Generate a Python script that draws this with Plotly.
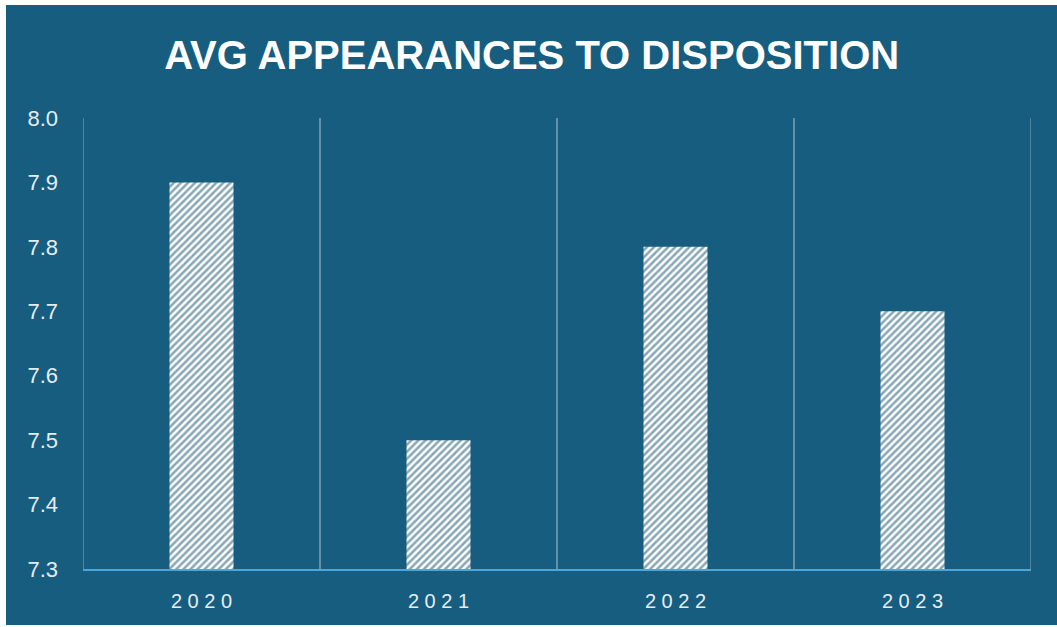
import plotly.graph_objects as go

# Average number of court appearances before disposition, by year
years = ["2020", "2021", "2022", "2023"]
avg_appearances = [7.9, 7.5, 7.8, 7.7]
y_ticks = [7.3, 7.4, 7.5, 7.6, 7.7, 7.8, 7.9, 8.0]

BG = "#165D7F"
W, H = 1057, 627
ML, MR, MT, MB = 83, 26, 118, 58

fig = go.Figure(
    go.Bar(
        x=years,
        y=avg_appearances,
        width=0.27,
        marker=dict(
            color="white",
            line=dict(width=0),
            pattern=dict(shape="/", fgcolor="#0F4F6E", bgcolor="white",
                         size=5, solidity=0.5, fillmode="overlay"),
        ),
        hoverinfo="x+y",
    )
)

# thin white frame on the left, top and bottom edges of the page
pw, ph = W - ML - MR, H - MT - MB
def px_x(v):
    return (v - ML) / pw
def px_y(v):
    return 1 - (v - MT) / ph
for x0, y0, x1, y1 in [(0, 0, 6, H), (0, 0, W, 5), (0, 625, W, H)]:
    fig.add_shape(type="rect", xref="paper", yref="paper",
                  x0=px_x(x0), x1=px_x(x1), y0=px_y(y1), y1=px_y(y0),
                  fillcolor="white", line=dict(width=0), layer="below")

# outer category boundary lines at both ends of the plot
for xb in (-0.5, 3.5):
    fig.add_shape(type="line", xref="x", yref="paper", x0=xb, x1=xb, y0=0, y1=1,
                  line=dict(color="rgba(190,210,225,0.45)", width=1.5), layer="below")

fig.update_layout(
    width=W, height=H,
    margin=dict(l=ML, r=MR, t=MT, b=MB),
    paper_bgcolor=BG,
    plot_bgcolor=BG,
    showlegend=False,
    title=dict(
        text="<b>AVG APPEARANCES TO DISPOSITION</b>",
        x=0.503, xanchor="center", y=0.912, yanchor="middle",
        font=dict(family="Liberation Sans, Arial, sans-serif", size=40, color="white"),
    ),
    font=dict(family="Liberation Sans, Arial, sans-serif", color="#E6EDF2"),
    bargap=0.73,
)

fig.update_xaxes(
    type="category",
    tickmode="array",
    tickvals=years,
    ticktext=[" ".join(y) for y in years],
    tickson="boundaries",
    ticks="",
    showgrid=True,
    gridcolor="rgba(190,210,225,0.45)",
    gridwidth=1.5,
    showline=True,
    linecolor="#4FA6D6",
    linewidth=2,
    tickfont=dict(size=20, color="#E6EDF2"),
    ticklabelstandoff=13,
    range=[-0.5, 3.5],
)

fig.update_yaxes(
    range=[7.3, 8.0],
    tickmode="array",
    tickvals=y_ticks,
    ticktext=[f"{v:.1f}" for v in y_ticks],
    showgrid=False,
    zeroline=False,
    showline=False,
    ticks="",
    tickfont=dict(size=22, color="#E6EDF2"),
    ticklabelstandoff=24,
)

fig.write_html("out.html")
